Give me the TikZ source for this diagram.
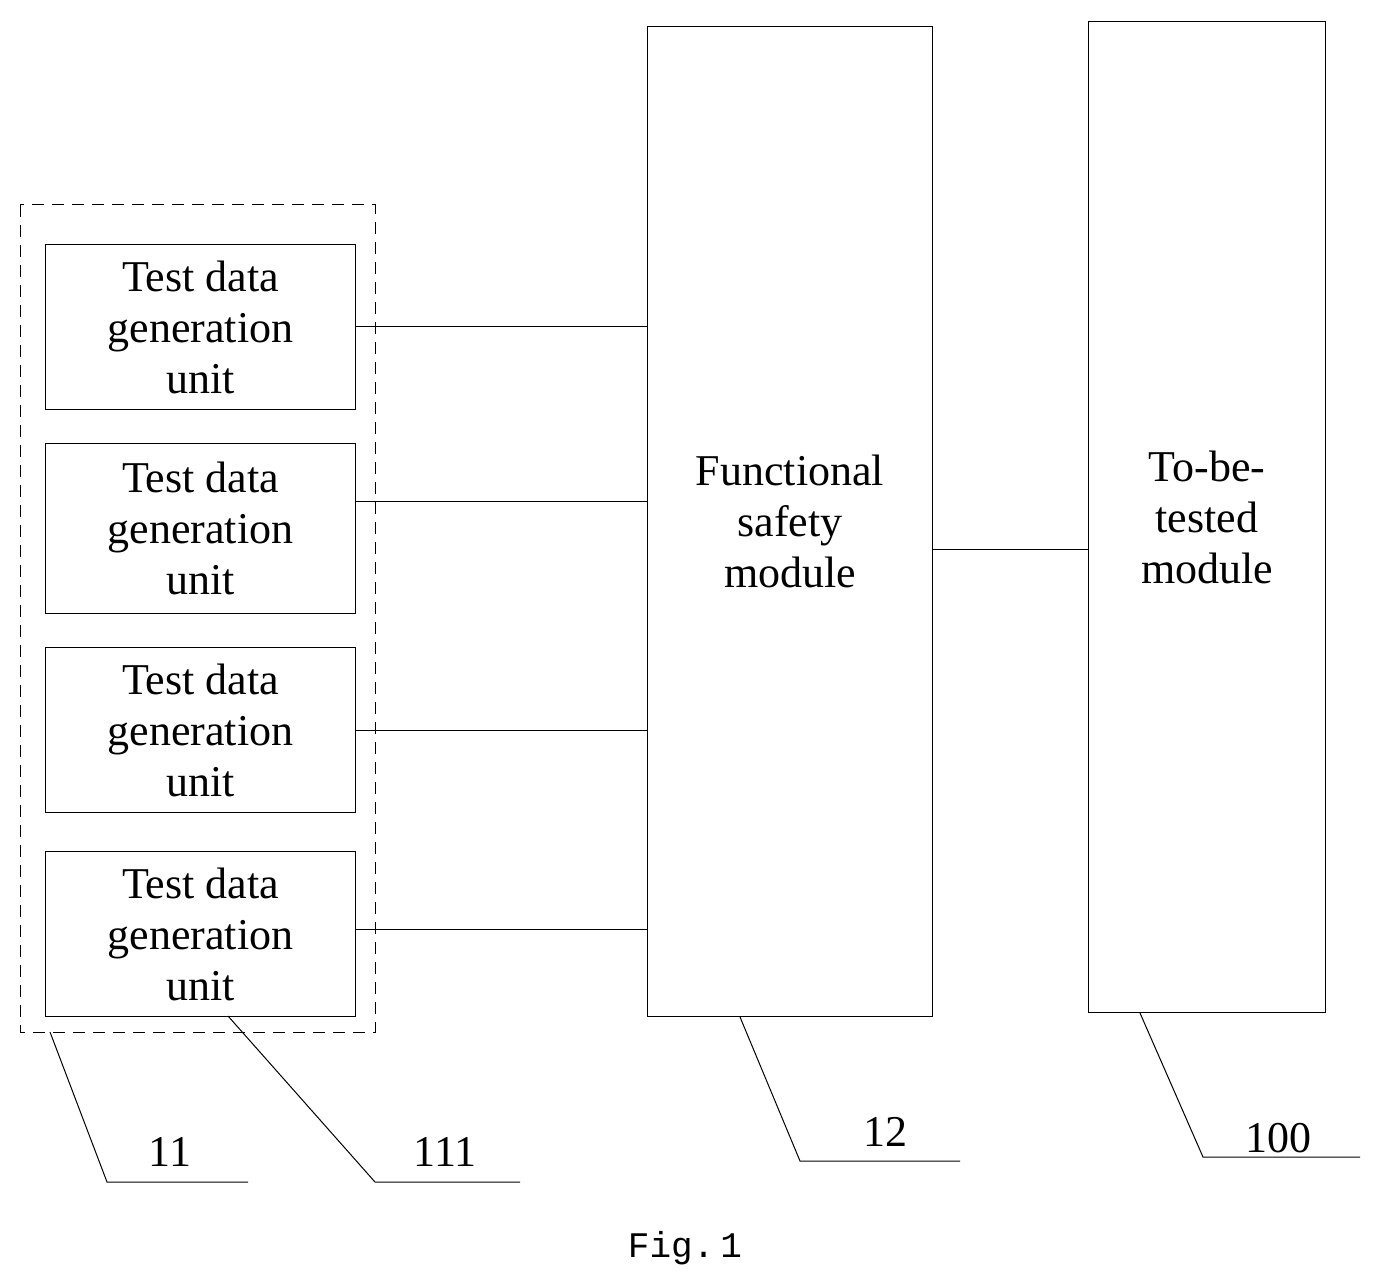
\documentclass[tikz,border=0pt]{standalone}
\usepackage{fontspec}
\setmainfont{Liberation Serif}
\newfontfamily\figfont{Liberation Mono}
\begin{document}
\begin{tikzpicture}[x=1pt,y=-1pt,
 box/.style={draw,line width=1pt,inner sep=0pt,align=center,font=\fontsize{44}{51}\selectfont},
 ln/.style={line width=1pt},
 lab/.style={font=\fontsize{44}{44}\selectfont,anchor=base}]
\useasboundingbox (0,0) rectangle (1381,1281);
\draw[dashed,line width=1pt,dash pattern=on 12pt off 8pt] (20,205) rectangle (375,1032);
\foreach \n/\a/\b in {1/244/409,2/443/613,3/647/812,4/851/1016}{
 \node[box,minimum width=310pt,minimum height={\b-\a},anchor=north west] (u\n) at (45,\a) {Test data\\generation\\unit};
}
\node[box,minimum width=285pt,minimum height=990pt,anchor=north west] (fs) at (647,26) {Functional\\safety\\module};
\node[box,minimum width=237pt,minimum height=991pt,anchor=north west] (tb) at (1088,21) {To-be-\\tested\\module};
\foreach \n/\y in {1/326,2/501,3/730,4/929}{
 \draw[ln] (u\n.east |- 0,\y) -- (fs.west |- 0,\y);
}
\draw[ln] (fs.east |- 0,549) -- (tb.west |- 0,549);
\coordinate (a1) at (107,1182); \coordinate (a2) at (248,1182);
\draw[ln] (50,1032) -- (a1) -- (a2);
\node[lab] (l11) at (170,1166) {11};
\coordinate (b1) at (375,1182); \coordinate (b2) at (520,1182);
\draw[ln] (228,1016) -- (b1) -- (b2);
\node[lab] (l111) at (445,1166) {111};
\coordinate (c1) at (800,1161); \coordinate (c2) at (960,1161);
\draw[ln] (fs.south -| 740,0) -- (c1) -- (c2);
\node[lab] (l12) at (885,1146) {12};
\coordinate (d1) at (1203,1157); \coordinate (d2) at (1360,1157);
\draw[ln] (tb.south -| 1140,0) -- (d1) -- (d2);
\node[lab] (l100) at (1278,1152) {100};
\node[font=\figfont\fontsize{36}{36}\selectfont] (fig) at (685,1248) {Fig.\,1};
\end{tikzpicture}
\end{document}
